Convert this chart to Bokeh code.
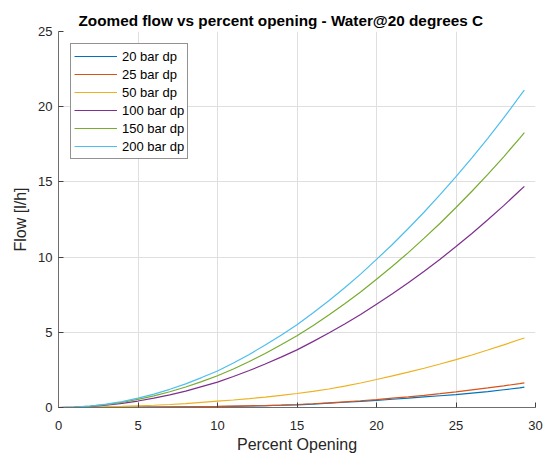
from bokeh.plotting import figure
from bokeh.models import Range1d, SingleIntervalTicker, Legend, LegendItem
from bokeh.embed import file_html
from bokeh.resources import INLINE

# Percent opening (x) and flow [l/h] per differential pressure
opening = [0, 1, 2, 3, 4, 5, 6, 7, 8, 9, 10, 11, 12, 13, 14, 15, 16, 17, 18, 19,
           20, 21, 22, 23, 24, 25, 26, 27, 28, 29, 29.3]
flow_20 = [0, 0, 0.005, 0.01, 0.015, 0.02, 0.025, 0.03, 0.04, 0.05, 0.06, 0.08, 0.10, 0.12, 0.15, 0.18,
           0.23, 0.29, 0.35, 0.41, 0.48, 0.55, 0.62, 0.70, 0.78, 0.86, 0.96, 1.06, 1.18, 1.30, 1.35]
flow_25 = [0, 0, 0.005, 0.01, 0.015, 0.02, 0.03, 0.04, 0.05, 0.06, 0.07, 0.09, 0.11, 0.13, 0.16, 0.20,
           0.25, 0.31, 0.38, 0.45, 0.53, 0.62, 0.71, 0.81, 0.92, 1.04, 1.17, 1.30, 1.44, 1.59, 1.64]
flow_50 = [0, 0.005, 0.02, 0.04, 0.07, 0.11, 0.15, 0.20, 0.26, 0.34, 0.42, 0.50, 0.59, 0.69, 0.80, 0.93,
           1.07, 1.23, 1.42, 1.63, 1.86, 2.10, 2.35, 2.61, 2.89, 3.18, 3.49, 3.82, 4.16, 4.52, 4.62]
flow_100 = [0, 0.02, 0.07, 0.15, 0.27, 0.43, 0.62, 0.84, 1.09, 1.39, 1.69, 2.06, 2.46, 2.89, 3.35, 3.83,
            4.38, 4.95, 5.55, 6.18, 6.87, 7.56, 8.29, 9.06, 9.86, 10.70, 11.57, 12.48, 13.42, 14.41, 14.70]
flow_150 = [0, 0.02, 0.09, 0.19, 0.34, 0.54, 0.77, 1.05, 1.36, 1.72, 2.11, 2.56, 3.06, 3.59, 4.17, 4.77,
            5.44, 6.15, 6.90, 7.68, 8.53, 9.39, 10.30, 11.26, 12.25, 13.30, 14.38, 15.50, 16.67, 17.90, 18.27]
flow_200 = [0, 0.02, 0.10, 0.22, 0.39, 0.62, 0.89, 1.21, 1.57, 1.99, 2.43, 2.96, 3.53, 4.15, 4.81, 5.50,
            6.28, 7.10, 7.96, 8.87, 9.85, 10.84, 11.90, 13.00, 14.15, 15.35, 16.60, 17.90, 19.25, 20.68, 21.10]

series_names = ["20 bar dp", "25 bar dp", "50 bar dp", "100 bar dp", "150 bar dp", "200 bar dp"]
series_values = [flow_20, flow_25, flow_50, flow_100, flow_150, flow_200]
colors = ["#0072BD", "#D95319", "#EDB120", "#7E2F8E", "#77AC30", "#4DBEEE"]

FONT = "Liberation Sans"

p = figure(width=553, height=455, output_backend="svg", toolbar_location=None,
           x_range=Range1d(0, 30), y_range=Range1d(0, 25),
           min_border_left=58, min_border_right=18, min_border_top=31, min_border_bottom=47)

p.title.text = "Zoomed flow vs percent opening - Water@20 degrees C"
p.title.text_font = FONT
p.title.text_font_size = "15.3px"
p.title.text_font_style = "bold"
p.title.text_color = "#000000"
p.title.align = "left"
p.title.offset = 20
p.title.standoff = 6

p.outline_line_color = None
p.background_fill_color = "white"
p.border_fill_color = "white"

for ax in (p.xaxis[0], p.yaxis[0]):
    ax.ticker = SingleIntervalTicker(interval=5)
    ax.minor_tick_line_color = None
    ax.major_tick_in = 5
    ax.major_tick_out = 0
    ax.axis_line_color = "#6e6e6e"
    ax.major_tick_line_color = "#404040"
    ax.major_label_text_font = FONT
    ax.major_label_text_font_size = "13px"
    ax.major_label_text_color = "#262626"
    ax.axis_label_text_font = FONT
    ax.axis_label_text_font_size = "16px"
    ax.axis_label_text_font_style = "normal"
    ax.axis_label_text_color = "#262626"

p.xaxis.axis_label = "Percent Opening"
p.yaxis.axis_label = "Flow [l/h]"
p.xaxis.major_label_standoff = 9
p.xaxis.axis_label_standoff = 3
p.yaxis.major_label_standoff = 2
p.yaxis.axis_label_standoff = 6

p.xgrid.ticker = SingleIntervalTicker(interval=5)
p.ygrid.ticker = SingleIntervalTicker(interval=5)
p.grid.grid_line_color = "#dfdfdf"
p.grid.grid_line_width = 1

items = []
for name, vals, col in zip(series_names, series_values, colors):
    r = p.line(opening, vals, line_color=col, line_width=1.2)
    items.append(LegendItem(label=name, renderers=[r]))

legend = Legend(items=items, location="top_left", margin=12, padding=3,
                spacing=0, glyph_width=43, glyph_height=18, label_height=18,
                label_standoff=5, label_text_font=FONT, label_text_font_size="13px",
                label_text_color="#000000", border_line_color="#262626",
                border_line_width=1, background_fill_color="white", background_fill_alpha=1)
p.add_layout(legend, "center")

open("out.html", "w").write(file_html(p, INLINE))
